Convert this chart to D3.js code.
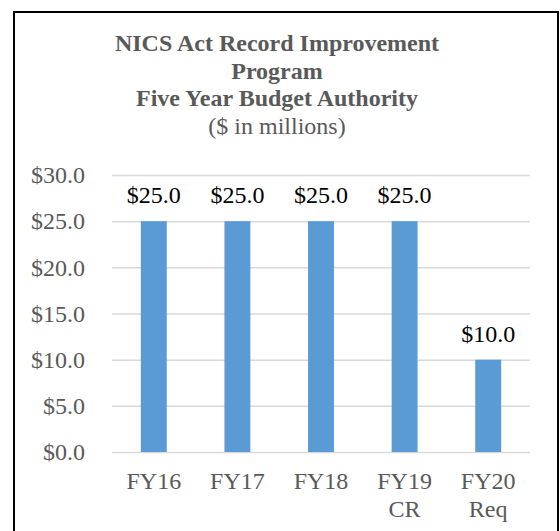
<!DOCTYPE html>
<html>
<head>
<meta charset="utf-8">
<script src="https://cdn.jsdelivr.net/npm/d3@7"></script>
<style>
  body { margin: 0; background: #fff; }
  text { font-family: "Liberation Serif", "Times New Roman", serif; }
</style>
</head>
<body>
<svg id="chart" width="560" height="531"></svg>
<script>
// data
const categories = [["FY16"], ["FY17"], ["FY18"], ["FY19", "CR"], ["FY20", "Req"]];
const values = [25, 25, 25, 25, 10];
const yTicks = [0, 5, 10, 15, 20, 25, 30];
const titleLines = ["NICS Act Record Improvement", "Program", "Five Year Budget Authority"];
const subtitle = "($ in millions)";

const svg = d3.select("#chart");
const margin = {left: 112, right: 30, top: 175, bottom: 79};
const W = 560, H = 531;

// outer frame
svg.append("rect")
    .attr("x", 14).attr("y", 12)
    .attr("width", 544).attr("height", 540)
    .attr("fill", "none")
    .attr("stroke", "#000")
    .attr("stroke-width", 2);

const x = d3.scaleBand()
    .domain(categories.map(c => c[0]))
    .range([margin.left, W - margin.right])
    .paddingInner(0.69)
    .paddingOuter(0.345);

const y = d3.scaleLinear()
    .domain([0, 30])
    .range([H - margin.bottom, margin.top]);

// title
const title = svg.append("text")
    .attr("text-anchor", "middle")
    .attr("fill", "#595959")
    .attr("font-size", 24);
titleLines.forEach((t, i) => {
    title.append("tspan")
        .attr("x", 277)
        .attr("y", 51 + i * 27.5)
        .attr("font-weight", "bold")
        .text(t);
});
title.append("tspan")
    .attr("x", 277)
    .attr("y", 51 + 3 * 27.5)
    .text(subtitle);

// gridlines + y labels
const yAxis = d3.axisLeft(y)
    .tickValues(yTicks)
    .tickSize(-(W - margin.left - margin.right))
    .tickPadding(27)
    .tickFormat(d => "$" + d3.format(".1f")(d));

svg.append("g")
    .attr("transform", `translate(${margin.left},0)`)
    .call(yAxis)
    .call(g => g.select(".domain").remove())
    .call(g => g.selectAll(".tick line").attr("stroke", "#d9d9d9").attr("stroke-width", 1.5))
    .call(g => g.selectAll(".tick text")
        .attr("fill", "#595959")
        .attr("font-size", 24)
        .attr("font-family", "Liberation Serif, serif"));

// bars
svg.append("g")
    .selectAll("rect")
    .data(values)
    .join("rect")
    .attr("x", (d, i) => x(categories[i][0]))
    .attr("y", d => y(d))
    .attr("width", x.bandwidth())
    .attr("height", d => y(0) - y(d))
    .attr("fill", "#5b9bd5");

// value labels
svg.append("g")
    .selectAll("text")
    .data(values)
    .join("text")
    .attr("x", (d, i) => x(categories[i][0]) + x.bandwidth() / 2)
    .attr("y", d => y(d) - 18)
    .attr("text-anchor", "middle")
    .attr("font-size", 24)
    .attr("fill", "#000")
    .text(d => "$" + d3.format(".1f")(d));

// x labels
const xl = svg.append("g")
    .selectAll("text")
    .data(categories)
    .join("text")
    .attr("text-anchor", "middle")
    .attr("font-size", 24)
    .attr("fill", "#595959");
xl.each(function(c) {
    const cx = x(c[0]) + x.bandwidth() / 2;
    d3.select(this).selectAll("tspan")
        .data(c)
        .join("tspan")
        .attr("x", cx)
        .attr("y", (d, i) => 489 + i * 28)
        .text(d => d);
});
</script>
</body>
</html>
